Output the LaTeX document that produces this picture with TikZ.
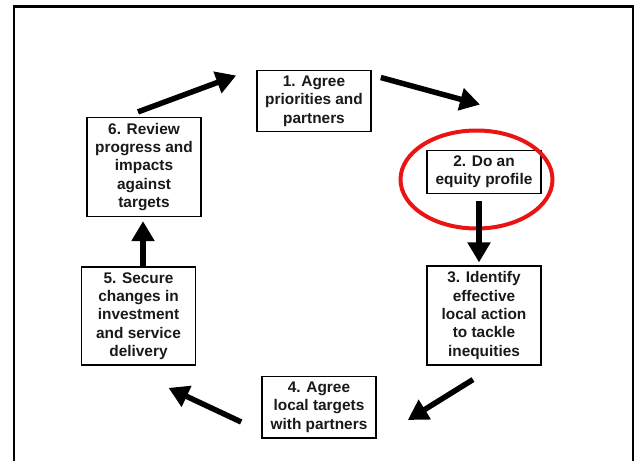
\documentclass[tikz,border=0pt]{standalone}
\usepackage{fontspec}
\setmainfont{Liberation Sans}
\usepackage{tikz}
\usetikzlibrary{arrows.meta, calc}
\definecolor{cyclered}{RGB}{235, 20, 20}
\definecolor{cycletext}{RGB}{25, 25, 25}

\begin{document}
\begin{tikzpicture}[x=1pt, y=-1pt, >={Triangle[length=20pt, width=22pt]},
    stage/.style={draw, line width=1.6pt, align=center, minimum width=114pt,
        inner ysep=5.5pt, text=cycletext, font=\fontsize{15.4}{18.3}\selectfont\bfseries},
    flow/.style={->, line width=5.5pt}]
    \useasboundingbox (0,0) rectangle (639,461);
    \draw[line width=2.5pt] (14,461) |- (633,6.5) -- (633,461);
    \node[stage] (agree) at (314,101) {1. Agree\\priorities and\\partners};
    \node[stage] (profile) at (484,172) {2. Do an\\equity profile};
    \node[stage] (identify) at (484,315.5) {3. Identify\\effective\\local action\\to tackle\\inequities};
    \node[stage] (targets) at (319,407) {4. Agree\\local targets\\with partners};
    \node[stage] (secure) at (138.5,316) {5. Secure\\changes in\\investment\\and service\\delivery};
    \node[stage] (review) at (144,167) {6. Review\\progress and\\impacts\\against\\targets};
    \draw[cyclered, line width=4pt] (476.5,179.5) ellipse [x radius=76pt, y radius=49pt];
    \draw[flow] ($(review.north)+(-6,-5)$) -- ($(agree.north west)+(-20,6)$);
    \draw[flow] ($(agree.north east)+(9,8)$) -- ($(profile.north)+(-4,-45)$);
    \draw[flow] ($(profile.south)+(-5,7)$) -- ($(identify.north)+(-5,-3)$);
    \draw[flow] ($(identify.south)+(-11,14)$) -- ($(targets.east)+(31,13)$);
    \draw[flow] ($(targets.west)+(-20,15)$) -- ($(secure.south)+(30,22)$);
    \draw[flow] ($(secure.north)+(4.5,0)$) -- ($(review.south)+(-1,4)$);
\end{tikzpicture}
\end{document}
